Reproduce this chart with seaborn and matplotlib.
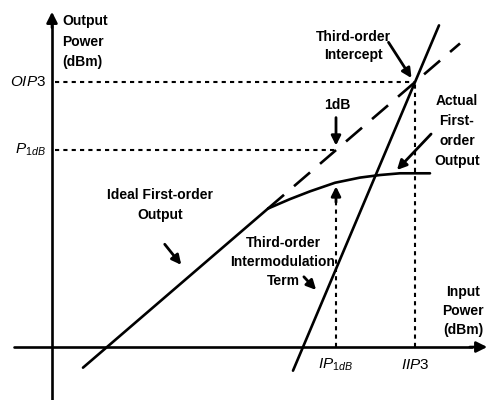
import matplotlib
matplotlib.use("Agg")
import matplotlib.pyplot as plt
import seaborn as sns
import pandas as pd

# Input / output power in dB, measured from where the two axes cross
pin_ideal = [3.1, 21.6]
pout_ideal = [-2.4, 16.1]

pin_ideal_ext = [21.6, 40.8]
pout_ideal_ext = [16.1, 35.3]

pin_actual = [21.6, 23.8, 25.8, 28.3, 30.8, 32.8, 34.8, 37.8]
pout_actual = [16.1, 17.2, 18.1, 19.1, 19.7, 20.0, 20.2, 20.2]

pin_third = [24.1, 38.7]
pout_third = [-2.75, 37.4]

IIP3, OIP3 = 36.3, 30.8
IP1DB, P1DB = 28.4, 22.9
P_COMP_AT_IP1DB = 19.0

sns.set_theme(style="white")
plt.rcParams["font.family"] = ["Liberation Sans", "DejaVu Sans"]
plt.rcParams["mathtext.fontset"] = "custom"
plt.rcParams["mathtext.it"] = "Liberation Sans:italic"
plt.rcParams["mathtext.rm"] = "Liberation Sans"

fig = plt.figure(figsize=(4.9, 4.0), dpi=100)
ax = fig.add_axes([0, 0, 1, 1])
ax.set_xlim(-5.2, 43.8)
ax.set_ylim(-6.16, 40.35)
ax.set_axis_off()

K = "black"
LW = 1.9


def seg(x, y, **kw):
    df = pd.DataFrame({"pin": x, "pout": y})
    sns.lineplot(data=df, x="pin", y="pout", ax=ax, color=K, sort=False,
                 estimator=None, errorbar=None, legend=False, **kw)


# axes with arrow heads
ax.plot([0, 0], [-6.2, 37.5], color=K, lw=LW)
ax.annotate("", xy=(0, 39.3), xytext=(0, 36.8),
            arrowprops=dict(arrowstyle="-|>", color=K, lw=LW, mutation_scale=16))
ax.plot([-3.8, 42.0], [0, 0], color=K, lw=LW)
ax.annotate("", xy=(43.8, 0), xytext=(41.5, 0),
            arrowprops=dict(arrowstyle="-|>", color=K, lw=LW, mutation_scale=16))

# characteristic lines
seg(pin_ideal, pout_ideal, lw=LW)
seg(pin_ideal_ext, pout_ideal_ext, lw=LW, linestyle=(0, (8, 5)))
seg(pin_actual, pout_actual, lw=LW)
seg(pin_third, pout_third, lw=LW)

# reference levels
dot = (0, (2, 2))
seg([0.3, IIP3], [OIP3, OIP3], lw=1.5, linestyle=dot)
seg([0.3, IP1DB], [P1DB, P1DB], lw=1.5, linestyle=dot)
seg([IIP3, IIP3], [0, OIP3], lw=1.5, linestyle=dot)
seg([IP1DB, IP1DB], [0, P_COMP_AT_IP1DB - 2.0], lw=1.5, linestyle=dot)

arrow = dict(arrowstyle="-|>", color=K, lw=2.0, mutation_scale=14)
ax.annotate("", xy=(IP1DB, P_COMP_AT_IP1DB), xytext=(IP1DB, P_COMP_AT_IP1DB - 2.5),
            arrowprops=arrow)

fs = 10
tk = dict(fontsize=fs, fontweight="bold", color=K)

ax.text(1.0, 35.5, "Output\nPower\n(dBm)", ha="left", va="center",
        linespacing=1.58, **tk)
ax.text(-0.6, OIP3, "$\\mathit{OIP3}$", ha="right", va="center", fontsize=11, color=K)
ax.text(-0.6, P1DB, "$\\mathit{P}_{\\mathit{1dB}}$", ha="right", va="center",
        fontsize=11, color=K)

ax.text(30.1, 35.0, "Third-order\nIntercept", ha="center", va="center",
        linespacing=1.45, **tk)
ax.annotate("", xy=(36.1, 31.0), xytext=(33.5, 35.7), arrowprops=arrow)

ax.text(28.5, 28.1, "1dB", ha="center", va="center", **tk)
ax.annotate("", xy=(28.4, 23.1), xytext=(28.4, 27.0), arrowprops=arrow)

ax.text(40.5, 25.1, "Actual\nFirst-\norder\nOutput", ha="center", va="center",
        linespacing=1.55, **tk)
ax.annotate("", xy=(34.3, 20.35), xytext=(38.1, 25.0), arrowprops=arrow)

ax.text(10.8, 16.5, "Ideal First-order\nOutput", ha="center", va="center",
        linespacing=1.58, **tk)
ax.annotate("", xy=(13.1, 9.3), xytext=(11.1, 12.2), arrowprops=arrow)

ax.text(23.1, 9.9, "Third-order\nIntermodulation\nTerm", ha="center", va="center",
        linespacing=1.47, **tk)
ax.annotate("", xy=(26.6, 6.4), xytext=(25.0, 8.4), arrowprops=arrow)

ax.text(41.1, 4.2, "Input\nPower\n(dBm)", ha="center", va="center",
        linespacing=1.47, **tk)

ax.text(IP1DB, -2.1, "$\\mathit{IP}_{\\mathit{1dB}}$", ha="center", va="center",
        fontsize=11, color=K)
ax.text(IIP3, -2.1, "$\\mathit{IIP3}$", ha="center", va="center", fontsize=11, color=K)

fig.savefig("out.png", dpi=100, facecolor="white")
